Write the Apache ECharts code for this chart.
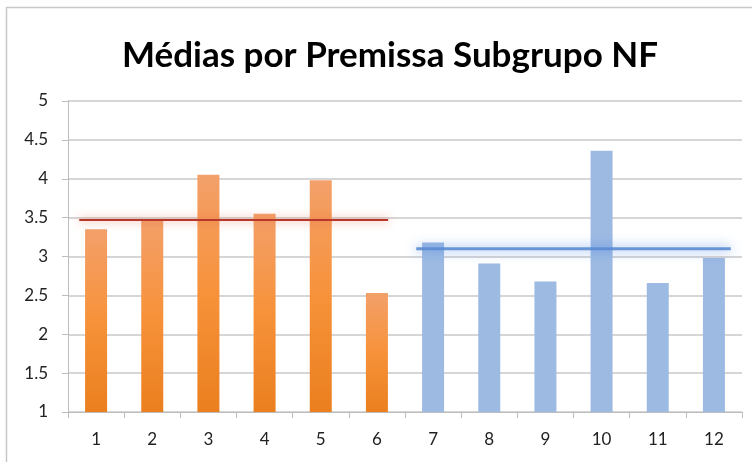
<!DOCTYPE html>
<html>
<head>
<meta charset="utf-8">
<script src="https://cdn.jsdelivr.net/npm/echarts@6/dist/echarts.min.js"></script>
<style>
  html, body { margin: 0; padding: 0; background: #fff; }
  #chart { width: 752px; height: 462px; }
</style>
</head>
<body>
<div id="chart"></div>
<script>
// premissas 1..12
var categories = ['1', '2', '3', '4', '5', '6', '7', '8', '9', '10', '11', '12']
var values = [3.35, 3.47, 4.05, 3.55, 3.98, 2.53, 3.18, 2.91, 2.68, 4.36, 2.66, 2.98]
var groupA = 6 // first 6 orange, rest blue
// group averages (lines)
var avgA = 3.47
var avgB = 3.10
var spanA = [0.2, 5.7]
var spanB = [6.2, 11.8]
var yTicks = [1, 5, 0.5]

var chart = echarts.init(document.getElementById('chart'))

var orange = new echarts.graphic.LinearGradient(0, 0, 0, 1, [
  { offset: 0, color: '#F3A06A' },
  { offset: 0.5, color: '#F7923A' },
  { offset: 1, color: '#EA7F1E' }
])

var option = {
  backgroundColor: '#fff',
  animation: false,
  title: {
    text: 'Médias por Premissa Subgrupo NF',
    left: 385,
    textAlign: 'center',
    top: 33,
    textStyle: {
      fontFamily: 'Lato',
      fontWeight: 'bold',
      fontSize: 35,
      color: '#000'
    }
  },
  graphic: [{
    type: 'polyline',
    shape: { points: [[6.5, 470], [6.5, 7.5], [760, 7.5]] },
    style: { stroke: '#C8C8C8', lineWidth: 1.5, fill: null },
    silent: true
  }],
  grid: { left: 68, right: 10, top: 101, bottom: 50 },
  xAxis: [{
    type: 'category',
    data: categories,
    axisLine: { lineStyle: { color: '#BDBDBD' } },
    axisTick: { show: true, length: 6, lineStyle: { color: '#BDBDBD' } },
    axisLabel: { color: '#222', fontSize: 17, fontFamily: 'Lato', margin: 19 }
  }, {
    type: 'value',
    min: 0,
    max: 12,
    show: false
  }],
  yAxis: {
    type: 'value',
    min: yTicks[0],
    max: yTicks[1],
    interval: yTicks[2],
    axisLine: { show: true, lineStyle: { color: '#BDBDBD' } },
    axisTick: { show: true, length: 6, lineStyle: { color: '#BDBDBD' } },
    splitLine: { lineStyle: { color: '#C8C8C8', width: 1.5 } },
    axisLabel: { color: '#222', fontSize: 17, fontFamily: 'Lato', margin: 20 }
  },
  series: [
    {
      type: 'bar',
      barWidth: 22,
      data: values.map(function (v, i) {
        return {
          value: v,
          itemStyle: { color: i < groupA ? orange : '#9DBAE2' }
        }
      })
    },
    {
      type: 'line',
      xAxisIndex: 1,
      symbol: 'none',
      data: [[spanA[0], avgA], [spanA[1], avgA]],
      lineStyle: {
        color: '#B8362A',
        width: 2,
        shadowColor: 'rgba(230, 100, 60, 0.9)',
        shadowBlur: 10
      },
      z: 3
    },
    {
      type: 'line',
      xAxisIndex: 1,
      symbol: 'none',
      data: [[spanB[0], avgB], [spanB[1], avgB]],
      lineStyle: {
        color: 'rgba(90, 140, 210, 0.9)',
        width: 3,
        shadowColor: 'rgba(70, 130, 230, 1)',
        shadowBlur: 12
      },
      z: 3
    }
  ]
}

chart.setOption(option)
</script>
</body>
</html>
